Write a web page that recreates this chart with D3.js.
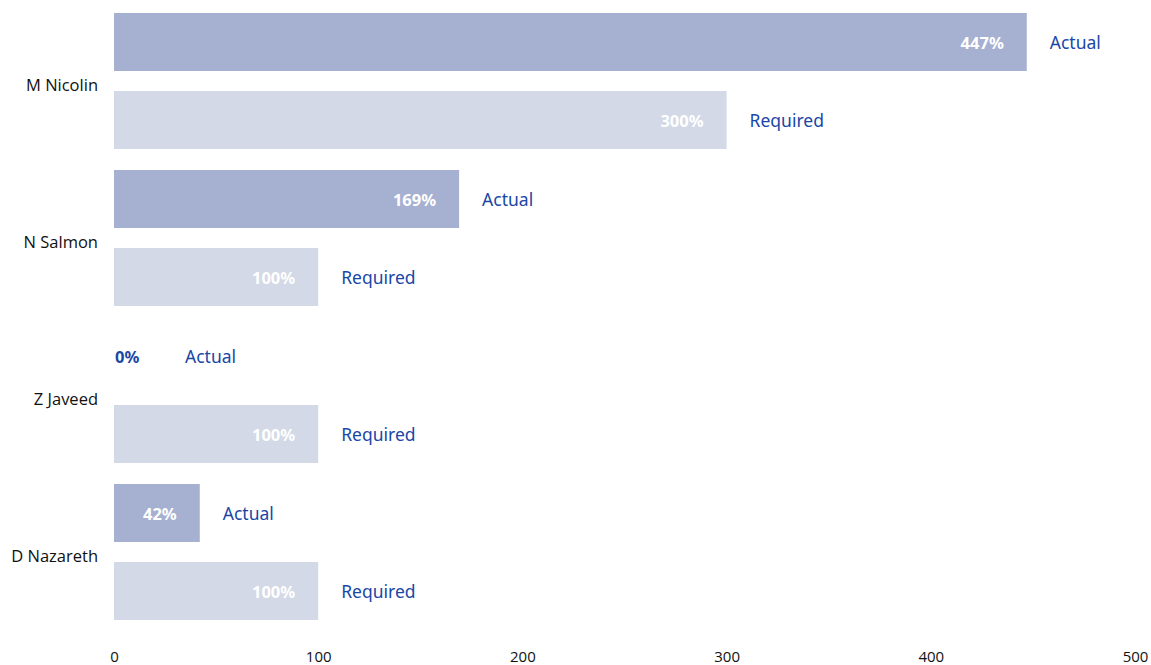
<!DOCTYPE html>
<html>
<head>
<meta charset="utf-8">
<script src="https://cdn.jsdelivr.net/npm/d3@7"></script>
<style>
  body { margin: 0; background: #fff; }
  svg { display: block; }
</style>
</head>
<body>
<div id="chart"></div>
<script>
// people, series and their values (percent)
const people = ['M Nicolin', 'N Salmon', 'Z Javeed', 'D Nazareth'];
const series = ['Actual', 'Required'];
const actual = [447, 169, 0, 42];
const required = [300, 100, 100, 100];
const xTicks = [0, 100, 200, 300, 400, 500];

const colors = { Actual: '#a6b0d1', Required: '#d3d9e6' };
const blue = '#1a47a6';

const width = 1151, height = 665;

const rows = [];
people.forEach((p, i) => {
  rows.push({ person: p, series: 'Actual', value: actual[i] });
  rows.push({ person: p, series: 'Required', value: required[i] });
});

const svg = d3.select('#chart')
  .append('svg')
    .attr('width', width)
    .attr('height', height);

// x scaling
const xScale = d3.scaleLinear()
  .domain([0, 500])
  .range([114, 1135]);

// y scaling: groups, then series inside each group
const yScale = d3.scaleBand()
  .domain(people)
  .range([7, 635]);

const ySub = d3.scaleBand()
  .domain(series)
  .range([6, 142])
  .paddingInner(20 / 78);

// category labels
svg.append('g')
    .attr('font-family', '"Open Sans", "Noto Sans", sans-serif')
    .attr('font-size', 16.5)
    .attr('fill', '#111')
    .attr('text-anchor', 'end')
  .selectAll('text')
  .data(people)
  .join('text')
    .attr('x', 98)
    .attr('y', d => yScale(d) + yScale.bandwidth() / 2)
    .attr('dy', '0.35em')
    .text(d => d);

// x axis labels only
const xAxis = g => g
    .attr('transform', `translate(0,651)`)
    .call(d3.axisBottom(xScale).tickValues(xTicks).tickSize(0).tickPadding(0))
    .call(g => g.select('.domain').remove())
    .attr('font-family', '"Open Sans", "Noto Sans", sans-serif')
    .attr('font-size', 15)
    .attr('color', '#111');

svg.append('g').call(xAxis);

// bars
const barY = d => yScale(d.person) + ySub(d.series);
svg.append('g')
  .selectAll('rect')
  .data(rows.filter(d => d.value > 0))
  .join('rect')
    .attr('x', xScale(0))
    .attr('y', barY)
    .attr('width', d => xScale(d.value) - xScale(0))
    .attr('height', ySub.bandwidth())
    .attr('fill', d => colors[d.series]);

const font = '"Noto Sans", "Open Sans", sans-serif';

// value labels
svg.append('g')
    .attr('font-family', font)
    .attr('font-size', 16.5)
    .attr('font-weight', 'bold')
  .selectAll('text')
  .data(rows)
  .join('text')
    .attr('x', d => d.value > 0 ? xScale(d.value) - 23 : xScale(0) + 1)
    .attr('y', d => barY(d) + ySub.bandwidth() / 2 + 1)
    .attr('dy', '0.35em')
    .attr('text-anchor', d => d.value > 0 ? 'end' : 'start')
    .attr('fill', d => d.value > 0 ? '#fff' : blue)
    .text(d => d.value + '%');

// series labels
svg.append('g')
    .attr('font-family', font)
    .attr('font-size', 17.5)
    .attr('fill', blue)
  .selectAll('text')
  .data(rows)
  .join('text')
    .attr('x', d => d.value > 0 ? xScale(d.value) + 23 : xScale(0) + 71)
    .attr('y', d => barY(d) + ySub.bandwidth() / 2 + 1)
    .attr('dy', '0.35em')
    .text(d => d.series);
</script>
</body>
</html>
